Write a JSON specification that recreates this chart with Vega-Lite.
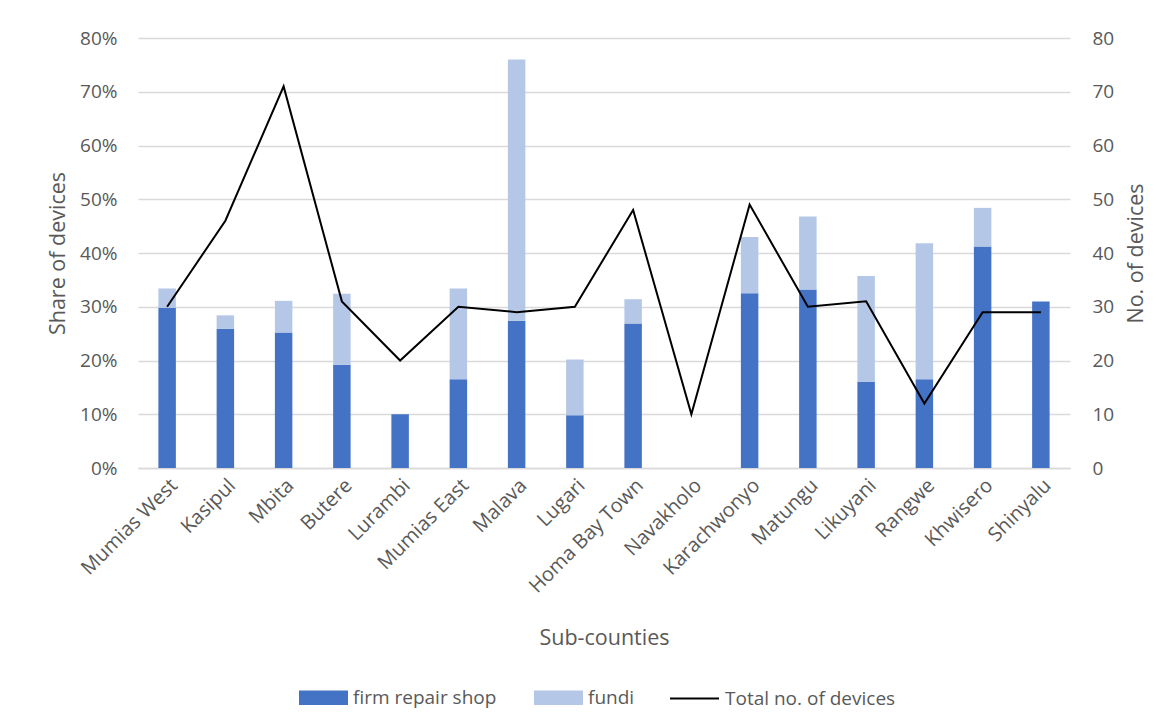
{
  "$schema": "https://vega.github.io/schema/vega-lite/v6.json",
  "width": 932,
  "height": 430,
  "autosize": {"type": "none"},
  "padding": {"left": 138, "top": 38, "right": 103, "bottom": 259},
  "background": "white",
  "datasets": {
    "shares": [
      {"county": "Mumias West", "type": "firm repair shop", "share": 0.298},
      {"county": "Mumias West", "type": "fundi", "share": 0.036},
      {"county": "Kasipul", "type": "firm repair shop", "share": 0.259},
      {"county": "Kasipul", "type": "fundi", "share": 0.025},
      {"county": "Mbita", "type": "firm repair shop", "share": 0.252},
      {"county": "Mbita", "type": "fundi", "share": 0.059},
      {"county": "Butere", "type": "firm repair shop", "share": 0.192},
      {"county": "Butere", "type": "fundi", "share": 0.132},
      {"county": "Lurambi", "type": "firm repair shop", "share": 0.100},
      {"county": "Lurambi", "type": "fundi", "share": 0.0},
      {"county": "Mumias East", "type": "firm repair shop", "share": 0.165},
      {"county": "Mumias East", "type": "fundi", "share": 0.169},
      {"county": "Malava", "type": "firm repair shop", "share": 0.274},
      {"county": "Malava", "type": "fundi", "share": 0.486},
      {"county": "Lugari", "type": "firm repair shop", "share": 0.098},
      {"county": "Lugari", "type": "fundi", "share": 0.104},
      {"county": "Homa Bay Town", "type": "firm repair shop", "share": 0.269},
      {"county": "Homa Bay Town", "type": "fundi", "share": 0.045},
      {"county": "Navakholo", "type": "firm repair shop", "share": 0.0},
      {"county": "Navakholo", "type": "fundi", "share": 0.0},
      {"county": "Karachwonyo", "type": "firm repair shop", "share": 0.325},
      {"county": "Karachwonyo", "type": "fundi", "share": 0.105},
      {"county": "Matungu", "type": "firm repair shop", "share": 0.332},
      {"county": "Matungu", "type": "fundi", "share": 0.136},
      {"county": "Likuyani", "type": "firm repair shop", "share": 0.160},
      {"county": "Likuyani", "type": "fundi", "share": 0.197},
      {"county": "Rangwe", "type": "firm repair shop", "share": 0.165},
      {"county": "Rangwe", "type": "fundi", "share": 0.253},
      {"county": "Khwisero", "type": "firm repair shop", "share": 0.412},
      {"county": "Khwisero", "type": "fundi", "share": 0.072},
      {"county": "Shinyalu", "type": "firm repair shop", "share": 0.310},
      {"county": "Shinyalu", "type": "fundi", "share": 0.0}
    ],
    "totals": [
      {"county": "Mumias West", "total": 30},
      {"county": "Kasipul", "total": 46},
      {"county": "Mbita", "total": 71},
      {"county": "Butere", "total": 31},
      {"county": "Lurambi", "total": 20},
      {"county": "Mumias East", "total": 30},
      {"county": "Malava", "total": 29},
      {"county": "Lugari", "total": 30},
      {"county": "Homa Bay Town", "total": 48},
      {"county": "Navakholo", "total": 10},
      {"county": "Karachwonyo", "total": 49},
      {"county": "Matungu", "total": 30},
      {"county": "Likuyani", "total": 31},
      {"county": "Rangwe", "total": 12},
      {"county": "Khwisero", "total": 29},
      {"county": "Shinyalu", "total": 29}
    ]
  },
  "config": {
    "font": "Open Sans",
    "view": {"stroke": null},
    "axis": {
      "labelFont": "Open Sans",
      "labelFontSize": 19,
      "labelColor": "#595959",
      "titleFont": "Open Sans",
      "titleFontSize": 21.5,
      "titleFontWeight": "normal",
      "titleColor": "#595959",
      "ticks": false
    },
    "legend": {
      "labelFont": "Open Sans",
      "labelFontSize": 19,
      "labelColor": "#595959",
      "labelLimit": 0,
      "padding": 0
    }
  },
  "layer": [
    {
      "data": {"name": "shares"},
      "mark": {"type": "bar"},
      "encoding": {
        "x": {
          "field": "county",
          "type": "nominal",
          "sort": null,
          "scale": {
            "domain": ["Mumias West", "Kasipul", "Mbita", "Butere", "Lurambi", "Mumias East", "Malava", "Lugari", "Homa Bay Town", "Navakholo", "Karachwonyo", "Matungu", "Likuyani", "Rangwe", "Khwisero", "Shinyalu"],
            "paddingInner": 0.7,
            "paddingOuter": 0.35
          },
          "axis": {
            "title": "Sub-counties",
            "labelAngle": -45,
            "labelFontSize": 20,
            "labelPadding": 7,
            "titlePadding": 31,
            "domainColor": "#D9D9D9",
            "domainWidth": 1.3,
            "grid": false
          }
        },
        "y": {
          "field": "share",
          "type": "quantitative",
          "stack": "zero",
          "scale": {"domain": [0, 0.8], "nice": false},
          "axis": {
            "title": "Share of devices",
            "values": [0, 0.1, 0.2, 0.3, 0.4, 0.5, 0.6, 0.7, 0.8],
            "format": ".0%",
            "grid": true,
            "gridColor": "#D9D9D9",
            "gridWidth": 1.3,
            "domain": false,
            "labelPadding": 21,
            "titlePadding": 10
          }
        },
        "order": {"field": "type", "sort": "ascending"},
        "color": {
          "field": "type",
          "type": "nominal",
          "scale": {"domain": ["firm repair shop", "fundi"], "range": ["#4472C4", "#B4C7E7"]},
          "legend": {
            "title": null,
            "orient": "none",
            "direction": "horizontal",
            "legendX": 161,
            "legendY": 635,
            "symbolType": "M-1,-0.3H1V0.3H-1Z",
            "symbolSize": 2401,
            "symbolStrokeWidth": 0,
            "labelOffset": 5,
            "columnPadding": 37
          }
        }
      }
    },
    {
      "data": {"name": "totals"},
      "mark": {"type": "line", "strokeWidth": 2},
      "encoding": {
        "x": {"field": "county", "type": "nominal", "sort": null},
        "y": {
          "field": "total",
          "type": "quantitative",
          "scale": {"domain": [0, 80], "nice": false},
          "axis": {
            "orient": "right",
            "title": "No. of devices",
            "titleAngle": 270,
            "titleBaseline": "top",
            "values": [0, 10, 20, 30, 40, 50, 60, 70, 80],
            "grid": false,
            "domain": false,
            "labelPadding": 22,
            "titlePadding": 12
          }
        },
        "stroke": {
          "datum": "Total no. of devices",
          "type": "nominal",
          "scale": {"range": ["#000000"]},
          "legend": {
            "title": null,
            "orient": "none",
            "direction": "horizontal",
            "legendX": 531,
            "legendY": 635,
            "symbolType": "stroke",
            "symbolSize": 2401,
            "symbolStrokeWidth": 2,
            "labelOffset": 5
          }
        }
      }
    }
  ],
  "resolve": {"scale": {"y": "independent"}}
}
